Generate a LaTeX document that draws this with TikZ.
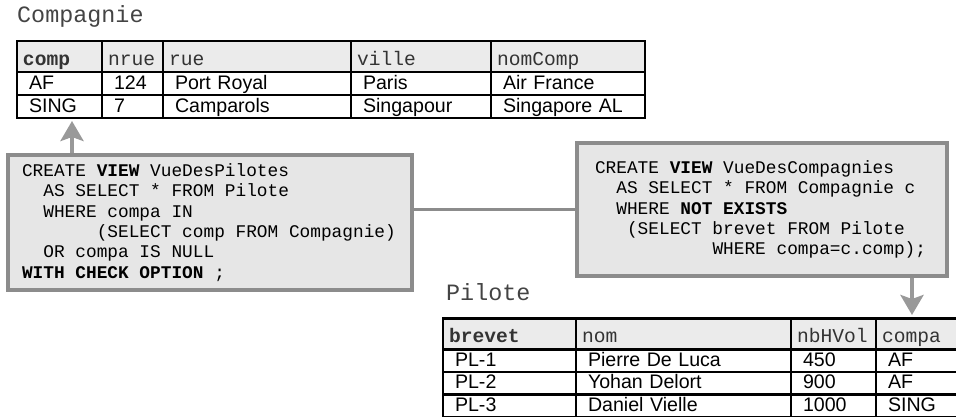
\documentclass[tikz,border=0pt]{standalone}
\usepackage{fontspec}
\setmainfont{Liberation Sans}
\setmonofont{Liberation Mono}
\usetikzlibrary{arrows.meta}
\definecolor{boxfill}{HTML}{E6E6E6}
\definecolor{boxline}{HTML}{8C8C8C}
\definecolor{headfill}{HTML}{EBEBEB}
\definecolor{headtext}{HTML}{333333}
\definecolor{titletext}{HTML}{444444}
\definecolor{arrowgray}{HTML}{999999}
\newcommand\monosp{\spaceskip=\fontcharwd\font`M\relax\xspaceskip=\spaceskip}
\newcommand\sqlind[1]{\hspace*{#1\fontcharwd\font`M}}
\tikzset{
  cell/.style={draw, line width=2.2pt, anchor=north west, outer sep=0pt,
    inner ysep=0pt, align=left},
  headcell/.style={cell, fill=headfill, text=headtext, minimum height=31pt,
    text height=17pt, text depth=0pt, inner xsep=6pt,
    font=\ttfamily\fontsize{19.6}{22}\selectfont},
  datacell/.style={cell, minimum height=23pt, text height=12pt, text depth=1pt,
    inner xsep=12pt, font=\fontsize{19.6}{22}\selectfont},
  tabtitle/.style={anchor=base west, inner sep=0pt, text=titletext,
    font=\ttfamily\fontsize{23.4}{26}\selectfont},
  sqlbox/.style={draw=boxline, fill=boxfill, line width=4pt, align=flush left,
    font=\ttfamily\fontsize{17.8}{20.4}\selectfont, execute at begin node=\monosp},
  link/.style={draw=boxline, line width=3.5pt},
  grayarr/.style={-{Stealth[length=20pt, width=23pt, inset=4pt]}, draw=arrowgray, line width=4pt}
}
\begin{document}
\begin{tikzpicture}[x=1pt, y=-1pt]
  \useasboundingbox (0,0) rectangle (956,416);
  \node[tabtitle] (comptitle) at (17,22) {Compagnie};
  \foreach \x/\w/\t [count=\i, evaluate=\w as \tw using \w-12] in {17/85/\textbf{comp}, 102/61/nrue, 163/188/rue, 351/140/ville, 491/154/nomComp}
    \node[headcell, text width=\tw pt] (comp-0-\i) at (\x,41) {\t};
  \foreach \x/\w/\t [count=\i, evaluate=\w as \tw using \w-24] in {17/85/AF, 102/61/124, 163/188/Port Royal, 351/140/Paris, 491/154/Air France}
    \node[datacell, text width=\tw pt] (comp-1-\i) at (\x,72) {\t};
  \foreach \x/\w/\t [count=\i, evaluate=\w as \tw using \w-24] in {17/85/SING, 102/61/7, 163/188/Camparols, 351/140/Singapour, 491/154/Singapore AL}
    \node[datacell, text width=\tw pt] (comp-2-\i) at (\x,95) {\t};

  \node[tabtitle] (piltitle) at (446,300.5) {Pilote};
  \foreach \x/\w/\t [count=\i, evaluate=\w as \tw using \w-12] in {443/133/\textbf{brevet}, 576/215/nom, 791/85/nbHVol, 876/86/compa}
    \node[headcell, text width=\tw pt] (pil-0-\i) at (\x,318.5) {\t};
  \foreach \x/\w/\t [count=\i, evaluate=\w as \tw using \w-24] in {443/133/PL-1, 576/215/Pierre De Luca, 791/85/450, 876/86/AF}
    \node[datacell, minimum height=22.5pt, text width=\tw pt] (pil-1-\i) at (\x,349.5) {\t};
  \foreach \x/\w/\t [count=\i, evaluate=\w as \tw using \w-24] in {443/133/PL-2, 576/215/Yohan Delort, 791/85/900, 876/86/AF}
    \node[datacell, minimum height=22.5pt, text width=\tw pt] (pil-2-\i) at (\x,372) {\t};
  \foreach \x/\w/\t [count=\i, evaluate=\w as \tw using \w-24] in {443/133/PL-3, 576/215/Daniel Vielle, 791/85/1000, 876/86/SING}
    \node[datacell, minimum height=22.5pt, text width=\tw pt] (pil-3-\i) at (\x,394.5) {\t};

  \node[sqlbox, text width=376pt, inner xsep=14pt, minimum height=135pt] (vuepil) at (210,222.5)
    {CREATE \textbf{VIEW} VueDesPilotes\\
     \sqlind{2}AS SELECT * FROM Pilote\\
     \sqlind{2}WHERE compa IN\\
     \sqlind{7}(SELECT comp FROM Compagnie)\\
     \sqlind{2}OR compa IS NULL\\
     \textbf{WITH CHECK OPTION} ;};
  \node[sqlbox, text width=334pt, inner xsep=18pt, minimum height=133pt] (vuecomp) at (762,209.5)
    {CREATE \textbf{VIEW} VueDesCompagnies\\
     \sqlind{2}AS SELECT * FROM Compagnie c\\
     \sqlind{2}WHERE \textbf{NOT EXISTS}\\
     \sqlind{3}(SELECT brevet FROM Pilote\\
     \sqlind{11}WHERE compa=c.comp);};

  \draw[link] (vuepil.east |- vuecomp.west) -- (vuecomp.west);
  \coordinate (compkey) at (72,121);
  \draw[grayarr] (vuepil.north -| compkey) -- (compkey);
  \coordinate (pilkey) at (912,315);
  \draw[grayarr] (vuecomp.south -| pilkey) -- (pilkey);
\end{tikzpicture}
\end{document}
